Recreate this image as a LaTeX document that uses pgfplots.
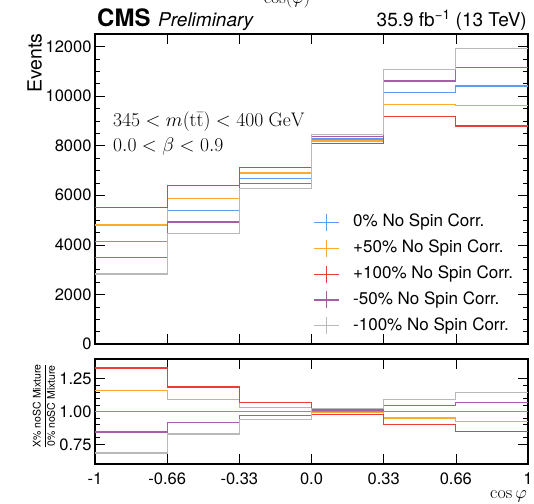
\RequirePackage{fix-cm}
\documentclass[border=0pt]{standalone}
\usepackage[no-math]{fontspec}
\setmainfont{TeX Gyre Heros}
\usepackage{pgfplots}
\pgfplotsset{compat=1.18}

% series colours
\definecolor{cBlue}{RGB}{95,155,245}
\definecolor{cOrange}{RGB}{255,170,40}
\definecolor{cRed}{RGB}{235,60,60}
\definecolor{cPurple}{RGB}{165,95,165}
\definecolor{cGray}{RGB}{185,185,185}

\pgfplotsset{
  rootframe/.style={
    scale only axis, width=433pt, anchor=north west,
    xmin=-1, xmax=1,
    tick align=inside,
    major tick length=10pt, minor tick length=5pt,
    axis line style={line width=1.2pt, black},
    every tick/.style={black, line width=0.6pt},
    xtick={-1,-0.6667,-0.3333,0,0.3333,0.6667,1},
    minor x tick num=4,
    tick label style={font=\fontsize{16.5}{19}\selectfont},
    /pgf/number format/assume math mode=true,
    /pgf/number format/1000 sep={},
    scaled y ticks=false,
  },
  hist/.style={const plot, line width=1.3pt, color=#1},
  legend image code/.code={
    \draw[#1] (0pt,0pt) -- (25pt,0pt);
    \draw[#1] (12.5pt,-8.5pt) -- (12.5pt,8.5pt);
  },
}

\begin{document}
\begin{tikzpicture}
\useasboundingbox (0pt,0pt) rectangle (534pt,-503pt);

% upper panel: event yields per cos(phi) bin
\begin{axis}[rootframe,
  at={(95pt,-34pt)}, height=310pt,
  ymin=0, ymax=12500,
  ytick={0,2000,4000,6000,8000,10000,12000},
  minor y tick num=3,
  xticklabels={},
  legend cell align=left,
  legend style={at={(0.5035,0.4219)}, anchor=north west, draw=none, fill=none,
    inner sep=0pt, row sep=7.5pt,
    nodes={inner sep=0pt, text height=12.5pt, text depth=4pt},
    font=\fontsize{17}{20}\selectfont,
    /tikz/every odd column/.append style={column sep=13.7pt}},
]
\addplot[hist=cBlue] coordinates {(-1,4130) (-0.6667,5380) (-0.3333,6680) (0,8270) (0.3333,10150) (0.6667,10400) (1,10400)};
\addplot[hist=cOrange] coordinates {(-1,4800) (-0.6667,5860) (-0.3333,6900) (0,8190) (0.3333,9650) (0.6667,9610) (1,9610)};
\addplot[hist=cRed] coordinates {(-1,5500) (-0.6667,6380) (-0.3333,7120) (0,8080) (0.3333,9170) (0.6667,8790) (1,8790)};
\addplot[hist=cPurple] coordinates {(-1,3480) (-0.6667,4920) (-0.3333,6480) (0,8370) (0.3333,10600) (0.6667,11140) (1,11140)};
\addplot[hist=cGray] coordinates {(-1,2820) (-0.6667,4460) (-0.3333,6260) (0,8450) (0.3333,11080) (0.6667,11910) (1,11910)};
\legend{0\% No Spin Corr., +50\% No Spin Corr., +100\% No Spin Corr., -50\% No Spin Corr., -100\% No Spin Corr.}
\end{axis}

% lower panel: ratio to the 0% sample
\begin{axis}[rootframe,
  at={(95pt,-359pt)}, height=105pt,
  ymin=0.6, ymax=1.4,
  ytick={0.75,1,1.25}, yticklabels={0.75,1.00,1.25},
  minor y tick num=4,
  xticklabels={-1,-0.66,-0.33,0.0,0.33,0.66,1},
  xticklabel style={yshift=-5pt},
]
\addplot[hist=cBlue] coordinates {(-1,1) (-0.6667,1) (-0.3333,1) (0,1) (0.3333,1) (0.6667,1) (1,1)};
\addplot[hist=cOrange] coordinates {(-1,1.162) (-0.6667,1.089) (-0.3333,1.033) (0,0.990) (0.3333,0.951) (0.6667,0.924) (1,0.924)};
\addplot[hist=cRed] coordinates {(-1,1.332) (-0.6667,1.186) (-0.3333,1.066) (0,0.977) (0.3333,0.903) (0.6667,0.845) (1,0.845)};
\addplot[hist=cPurple] coordinates {(-1,0.843) (-0.6667,0.914) (-0.3333,0.970) (0,1.012) (0.3333,1.044) (0.6667,1.071) (1,1.071)};
\addplot[hist=cGray] coordinates {(-1,0.683) (-0.6667,0.829) (-0.3333,0.937) (0,1.022) (0.3333,1.092) (0.6667,1.145) (1,1.145)};
\end{axis}

% header
\node[anchor=base west, inner sep=0pt, font=\fontsize{24}{28}\selectfont\bfseries] at (97pt,-26.7pt) {CMS};
\node[anchor=base west, inner sep=0pt, font=\fontsize{19}{22}\selectfont\itshape] at (158pt,-26.7pt) {Preliminary};
\node[anchor=base east, inner sep=0pt, font=\fontsize{19}{22}\selectfont] at (527pt,-26.7pt) {35.9 fb\textsuperscript{−1} (13 TeV)};
\node[anchor=base, inner sep=0pt, font=\fontsize{18}{21}\selectfont] at (287pt,-4pt) {$\cos(\varphi)$};

% axis titles
\node[rotate=90, anchor=base east, inner sep=0pt, font=\fontsize{19.5}{23}\selectfont] at (41.5pt,-33.3pt) {Events};
\node[rotate=90, inner sep=0pt, font=\fontsize{10.5}{12}\selectfont] at (44pt,-406pt)
  {$\displaystyle\frac{\mbox{X\% noSC Mixture}}{\mbox{0\% noSC Mixture}}$};
\node[anchor=base east, inner sep=0pt, font=\fontsize{18}{21}\selectfont] at (527pt,-498.5pt) {$\cos\varphi$};

% phase-space selection
\node[anchor=base west, inner sep=0pt, font=\fontsize{19.6}{23}\selectfont] at (113pt,-126.7pt) {$345 < m(\mathrm{t\bar{t}}) < 400~\mathrm{GeV}$};
\node[anchor=base west, inner sep=0pt, font=\fontsize{19.6}{23}\selectfont] at (113pt,-151.7pt) {$0.0 < \beta < 0.9$};
\end{tikzpicture}
\end{document}
